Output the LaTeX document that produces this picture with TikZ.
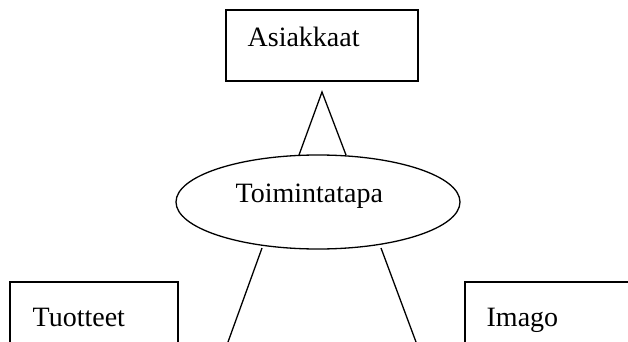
\documentclass[tikz,border=0pt]{standalone}
\usepackage{fontspec}
\setmainfont{Liberation Serif}
\usetikzlibrary{shapes.geometric}
\begin{document}
\begin{tikzpicture}[x=1pt,y=-1pt,line width=1.3pt,
  lbl/.style={font=\fontsize{28}{31}\selectfont,anchor=base west,inner sep=0pt}]
\useasboundingbox (0,0) rectangle (628,342);
\clip (0,0) rectangle (628,342);
% boxes
\draw (226,10) rectangle (418,81);
\draw (10,282) rectangle (178,360);
\draw (465,282) rectangle (650,360);
\node[lbl] (asiakkaat) at (247,47) {Asiakkaat};
\node[lbl] (tuotteet) at (32,326) {Tuotteet};
\node[lbl] (imago) at (486,326) {Imago};
% central ellipse
\draw[fill=white] (318,202) ellipse [x radius=142, y radius=47];
\node[lbl] (toiminta) at (235,202) {Toimintatapa};
% connectors
\coordinate (apex) at (322,92);
\coordinate (bl) at (299,155);
\coordinate (br) at (346,155);
\draw (bl) -- (apex) -- (br);
\coordinate (l1) at (262,248);
\coordinate (l2) at (228,342);
\coordinate (r1) at (381,248);
\coordinate (r2) at (416,342);
\draw (l1) -- (l2);
\draw (r1) -- (r2);
\end{tikzpicture}
\end{document}
